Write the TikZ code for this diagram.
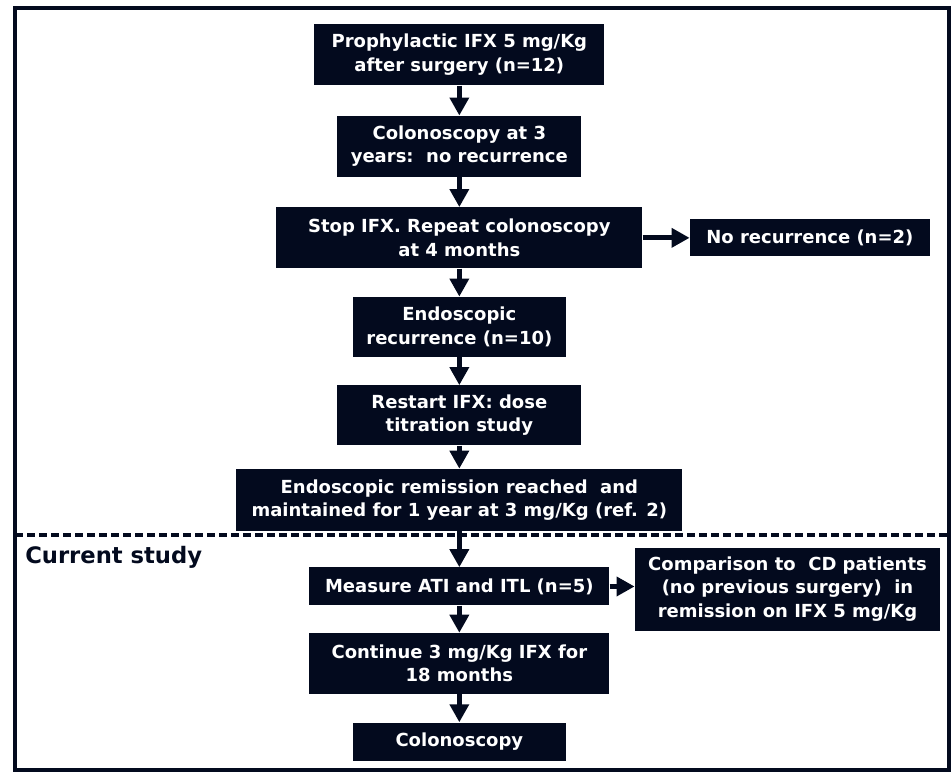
\documentclass[tikz,border=0pt]{standalone}
\usepackage{fontspec}
\setmainfont{DejaVu Sans}
\usepackage{tikz}
\usetikzlibrary{arrows.meta, positioning}
\definecolor{navy}{RGB}{3,10,30}

\begin{document}
\begin{tikzpicture} [
        x = 1pt, y = 1pt,
        node distance = 21pt,
        stage/.style = {rectangle, fill=navy, text=white, inner sep=0pt, align=center, font=\fontsize{13.5}{17.5}\selectfont\bfseries},
        flow/.style = {draw=navy, line width=3.75pt, -{Triangle[length=13.5pt, width=14pt]}},
        heading/.style = {text=navy, inner sep=0pt, font=\fontsize{17}{20}\selectfont\bfseries}
    ]

    \useasboundingbox (0,0) rectangle (714,-579);
    \draw[navy, line width=3pt] (11.25,-6) rectangle (711.75,-577.5);
    \draw[navy, line width=3pt, dash pattern=on 6pt off 3pt] (11.25,-401.25) -- (711.75,-401.25);
    \node[heading, anchor=base west] (0) at (18.75,-422.5) {Current study};

    \node[stage, minimum width=217.5pt, minimum height=45.75pt, anchor=north] (1) at (344.5,-18) {Prophylactic IFX 5 mg/Kg\\after surgery (n=12)};
    \node[stage, minimum width=183pt,   minimum height=45.75pt, below=22.5pt of 1] (2) {Colonoscopy at 3\\years:\ \ no recurrence};
    \node[stage, minimum width=274.5pt, minimum height=45.75pt, below=22.5pt of 2] (3) {Stop IFX. Repeat colonoscopy\\at 4 months};
    \node[stage, minimum width=160pt,   minimum height=45pt,    below=        of 3] (4) {Endoscopic\\recurrence (n=10)};
    \node[stage, minimum width=183pt,   minimum height=45pt,    below=        of 4] (5) {Restart IFX: dose\\titration study};
    \node[stage, minimum width=334.5pt, minimum height=46.5pt,  below=17.25pt of 5] (6) {Endoscopic remission reached\ \ and\\maintained for 1 year at 3 mg/Kg (ref. 2)};
    \node[stage, minimum width=225pt,   minimum height=28.5pt,  below=27pt of 6]    (7) {Measure ATI and ITL (n=5)};
    \node[stage, minimum width=225pt,   minimum height=45.75pt, below=20.25pt of 7] (8) {Continue 3 mg/Kg IFX for\\18 months};
    \node[stage, minimum width=160pt,   minimum height=28.5pt,  below=        of 8] (9) {Colonoscopy};

    \node[stage, minimum width=180pt, minimum height=27.75pt, right=35.25pt of 3] (10) {No recurrence (n=2)};
    \node[stage, minimum width=229pt, minimum height=62.25pt, right=18.75pt of 7, yshift=-1.9pt] (11) {Comparison to\ \ CD patients\\(no previous surgery)\ \ in\\remission on IFX 5 mg/Kg};

    \draw[flow] (1) -- (2);
    \draw[flow] (2) -- (3);
    \draw[flow] (3) -- (4);
    \draw[flow] (4) -- (5);
    \draw[flow] (5) -- (6);
    \draw[flow] (6) -- (7);
    \draw[flow] (7) -- (8);
    \draw[flow] (8) -- (9);
    \draw[flow] (3) -- (3 -| 10.west);
    \draw[flow] (7) -- (7 -| 11.west);

\end{tikzpicture}
\end{document}
